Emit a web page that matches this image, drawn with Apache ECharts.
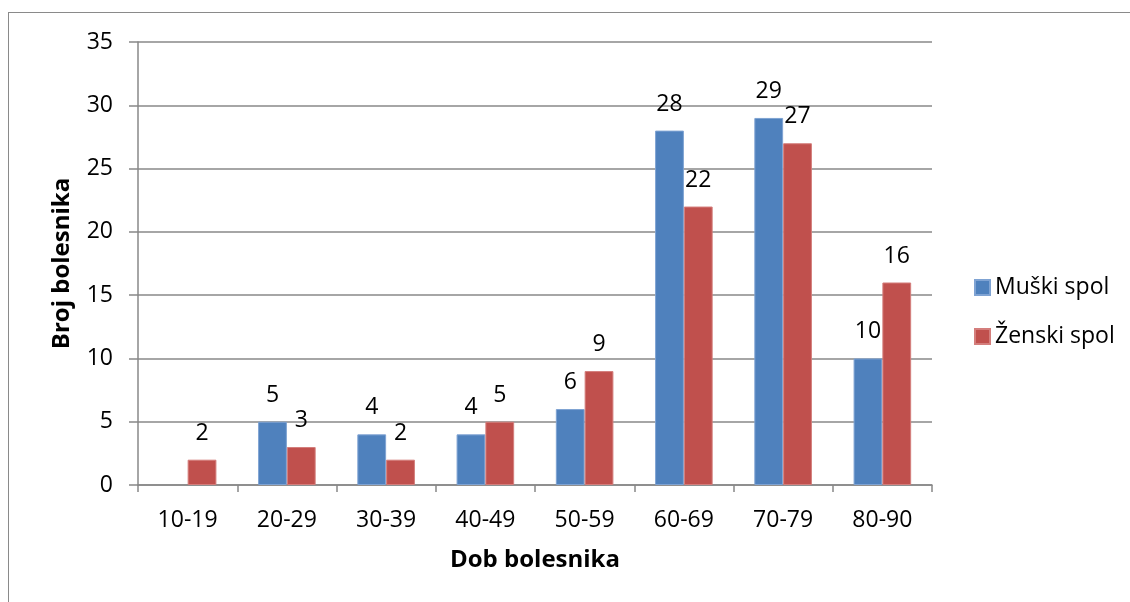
<!DOCTYPE html>
<html>
<head>
<meta charset="utf-8">
<script src="https://cdn.jsdelivr.net/npm/echarts@6/dist/echarts.min.js"></script>
<style>
html,body{margin:0;padding:0;background:#fff;}
#frame{position:absolute;left:8px;top:12px;width:1200px;height:700px;border:1.5px solid #8a8a8a;box-sizing:border-box;}
#chart{position:absolute;left:0;top:0;width:1130px;height:602px;}
</style>
</head>
<body>
<div id="frame"></div>
<div id="chart"></div>
<script>
const categories = ['10-19','20-29','30-39','40-49','50-59','60-69','70-79','80-90'];
const muski = [null,5,4,4,6,28,29,10];
const zenski = [2,3,2,5,9,22,27,16];
const seriesNames = ['Muški spol','Ženski spol'];
const yTicks = {min:0,max:35,interval:5};

const FONT = '"Open Sans", sans-serif';
const FS = 23;
const TFS = 24;
const chart = echarts.init(document.getElementById('chart'));
const labelCfg = {show:true, position:'top', distance:15, color:'#000', fontSize:FS, fontFamily:FONT};
chart.setOption({
  animation:false,
  textStyle:{fontFamily:FONT},
  grid:{left:138,right:198,top:42,bottom:117,containLabel:false},
  legend:{
    orient:'vertical', left:974, top:276, itemWidth:15, itemHeight:15, itemGap:26, padding:0,
    icon:'rect',
    textStyle:{fontSize:FS,lineHeight:22,color:'#000',fontFamily:FONT,padding:[0,0,0,0]},
    data:seriesNames
  },
  xAxis:{
    type:'category', data:categories,
    name:'Dob bolesnika', nameLocation:'middle', nameGap:63,
    nameTextStyle:{fontSize:TFS,fontWeight:'bold',color:'#000',fontFamily:FONT},
    axisLine:{lineStyle:{color:'#888',width:1.5}},
    axisTick:{show:true,length:7,lineStyle:{color:'#888',width:1.5}},
    axisLabel:{fontSize:FS,color:'#000',margin:24,fontFamily:FONT}
  },
  yAxis:{
    type:'value', min:yTicks.min, max:yTicks.max, interval:yTicks.interval,
    name:'Broj bolesnika', nameLocation:'middle', nameGap:64,
    nameTextStyle:{fontSize:TFS,fontWeight:'bold',color:'#000',fontFamily:FONT},
    axisLine:{show:true,lineStyle:{color:'#888',width:1.5}},
    axisTick:{show:true,length:9,lineStyle:{color:'#888',width:1.5}},
    axisLabel:{fontSize:FS,color:'#000',margin:25,fontFamily:FONT},
    splitLine:{lineStyle:{color:'#888',width:1.5}}
  },
  series:[
    {name:seriesNames[0],type:'bar',data:muski,barGap:'0%',barCategoryGap:'42%',
     itemStyle:{color:'#4F81BD',borderColor:'#7FA3D3',borderWidth:1},label:labelCfg},
    {name:seriesNames[1],type:'bar',data:zenski,barGap:'0%',barCategoryGap:'42%',
     itemStyle:{color:'#C0504D',borderColor:'#D47E7C',borderWidth:1},label:labelCfg}
  ]
});
</script>
</body>
</html>
